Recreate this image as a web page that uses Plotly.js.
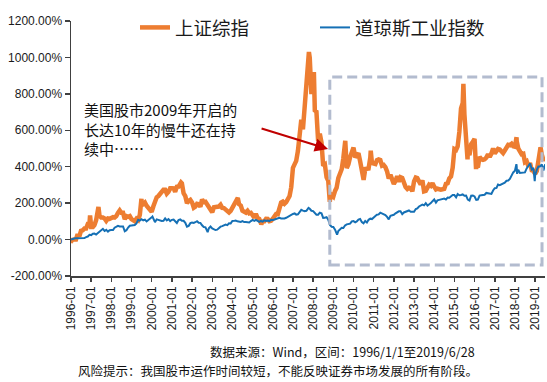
<!DOCTYPE html>
<html>
<head>
<meta charset="utf-8">
<script src="https://cdn.plot.ly/plotly-3.0.1.min.js"></script>
<style>
html,body{margin:0;padding:0;background:#fff;}
#chart{width:547px;height:382px;}
</style>
</head>
<body>
<div id="chart"></div>
<script>
// ---- Data (cumulative return since 1996-01, %) ----
const startDate = "1996-01-02";
const firstYear = 1996;
const lastYear = 2019;
const lastMonth = 6;

const seriesNames = ["上证综指", "道琼斯工业指数"];

// 上证综指 month-end values (1996-01 .. 2019-06)
const sseMonthly = [
  -1,1,1,30,18,48,51,61,61,85,85,69,
  69,79,107,155,131,121,121,116,103,116,114,120,
  123,121,129,147,160,147,147,112,129,125,129,112,
  109,101,114,107,136,212,195,203,186,173,166,152,
  183,216,232,239,250,256,273,273,252,262,282,282,
  281,262,290,291,308,309,254,238,200,212,218,204,
  175,181,196,194,180,220,205,207,192,178,165,150,
  177,179,179,181,191,174,173,162,152,149,158,176,
  193,209,221,194,187,158,156,148,158,144,147,134,
  120,141,118,114,96,99,100,114,113,101,103,114,
  132,140,139,166,203,208,197,206,223,239,287,394,
  414,432,487,609,658,605,725,863,924,999,799,871,
  709,702,541,581,533,405,412,342,323,219,245,236,
  267,284,338,357,386,446,530,392,413,453,489,505,
  451,463,474,430,378,342,387,387,390,450,420,418,
  415,436,440,437,406,410,398,374,335,355,330,306,
  323,348,318,342,338,311,288,278,285,282,265,319,
  340,337,313,302,325,265,268,287,301,295,310,290,
  275,279,275,274,276,278,306,309,336,347,395,497,
  492,511,592,720,751,689,576,492,463,524,536,553,
  405,396,454,442,438,441,450,469,454,472,500,473,
  483,498,495,482,475,489,504,520,518,526,512,510,
  542,501,485,469,471,425,431,403,420,380,377,360,
  377,443,470,468,435,450
];
// 上证综指 intramonth extremes
const sseExtraDates = ["1996-01-19","1996-12-11","1997-05-12","1999-06-29","2001-06-14","2004-04-07","2005-06-06","2007-10-16","2008-01-14","2008-10-28","2009-08-04","2010-07-02","2010-11-08","2015-06-12","2015-08-26","2016-01-27","2018-01-29","2019-04-08"];
const sseExtraVals  = [-5,132,179,224,314,229,84,1030,919,207,542,328,488,855,440,387,562,507];

// 道琼斯工业指数 month-end values (1996-01 .. 2019-06)
const djiMonthly = [
  4.2,6.0,7.9,7.6,9.0,9.2,6.8,8.5,13.6,16.5,26.0,24.6,
  31.6,32.9,27.2,35.4,41.6,48.2,58.8,47.2,53.5,43.8,51.1,52.8,
  52.7,65.1,70.0,75.1,71.9,72.9,71.6,45.6,51.5,66.0,76.1,77.3,
  80.8,79.8,89.0,108.4,104.0,111.9,105.8,109.2,99.7,107.3,110.1,122.1,
  111.3,95.6,111.0,107.3,103.2,101.8,103.2,116.6,105.7,111.9,101.2,108.4,
  110.3,102.7,90.8,107.4,110.8,102.9,103.3,92.2,70.9,75.3,90.3,93.6,
  91.6,95.2,101.0,92.1,91.7,78.5,68.8,67.4,46.6,62.2,71.8,61.1,
  55.6,52.4,54.4,63.8,70.9,73.6,78.4,81.9,79.2,89.3,88.9,101.9,
  102.6,104.4,100.1,97.5,96.8,101.6,95.9,96.5,94.7,93.7,101.4,108.3,
  102.6,108.0,102.9,96.9,102.2,98.5,105.5,102.5,104.2,101.7,108.7,107.0,
  109.9,112.3,114.6,119.6,115.7,115.4,116.1,119.8,125.6,133.4,136.1,140.7,
  143.8,137.0,138.6,152.3,163.2,159.0,155.2,158.0,168.4,169.1,158.3,156.2,
  144.3,136.9,136.9,147.6,144.1,119.2,119.8,123.0,109.6,80.1,70.5,69.5,
  54.5,36.4,47.0,57.8,64.2,63.2,77.2,83.4,87.6,87.6,99.8,101.4,
  94.5,99.4,109.7,112.7,95.8,88.8,102.2,93.5,108.4,114.8,112.6,123.6,
  129.7,136.2,138.0,147.5,142.8,139.8,134.6,124.3,110.8,130.9,132.7,136.0,
  144.0,150.2,155.2,155.2,139.4,148.8,151.3,152.9,159.6,153.0,151.6,153.1,
  167.7,171.5,181.6,186.7,192.0,188.0,199.4,186.1,192.3,200.3,210.7,220.2,
  203.2,215.3,217.9,220.3,222.9,225.0,219.9,230.3,229.2,235.9,244.4,244.3,
  231.6,250.3,243.4,244.6,247.9,240.4,241.7,219.3,214.6,241.2,242.3,236.6,
  218.1,219.0,241.6,243.3,243.6,246.3,256.0,255.4,253.6,250.4,269.4,281.7,
  283.7,302.0,299.1,304.5,305.8,312.4,322.9,324.0,332.8,351.6,368.8,377.5,
  405.1,383.5,365.6,366.7,371.6,368.8,390.9,401.5,411.1,385.1,393.3,350.6,
  382.9,400.6,400.8,413.7,379.3,413.8
];
const djiExtraDates = ["2000-01-14","2002-10-09","2007-10-09","2009-03-09","2018-01-26","2018-02-08","2018-10-03","2018-12-24"];
const djiExtraVals  = [126.4,40.7,173.6,26.5,414.1,360.9,418.2,320.9];

// tick labels / texts
const yTickVals = [-200,0,200,400,600,800,1000,1200];
const yTickText = ["-200.00%","0.00%","200.00%","400.00%","600.00%","800.00%","1000.00%","1200.00%"];
const noteLines = ["美国股市2009年开启的", "长达10年的慢牛还在持", "续中……"];
const sourceText = "数据来源：Wind，区间：1996/1/1至2019/6/28";
const riskText = "风险提示：我国股市运作时间较短，不能反映证券市场发展的所有阶段。";
const xRange = ["1996-01-01", "2019-06-28"];
const boxX = ["2008-10-28", "2019-05-05"];
const boxY = [-140, 892];
const arrowTip = {x: "2008-09-27", y: 497};

// ---- build series ----
function monthEnds() {
  const out = [];
  for (let y = firstYear; y <= lastYear; y++) {
    for (let m = 1; m <= 12; m++) {
      if (y === lastYear && m > lastMonth) break;
      out.push(new Date(Date.UTC(y, m, 0)).toISOString().slice(0, 10));
    }
  }
  return out;
}
function buildSeries(monthly, exDates, exVals) {
  const d = monthEnds();
  const pts = [[startDate, 0]];
  d.forEach((dt, i) => pts.push([dt, monthly[i]]));
  exDates.forEach((dt, i) => pts.push([dt, exVals[i]]));
  pts.sort((a, b) => a[0] < b[0] ? -1 : a[0] > b[0] ? 1 : 0);
  return {x: pts.map(p => p[0]), y: pts.map(p => p[1])};
}
const sse = buildSeries(sseMonthly, sseExtraDates, sseExtraVals);
const dji = buildSeries(djiMonthly, djiExtraDates, djiExtraVals);

const cjk = '"Noto Sans CJK SC", "Microsoft YaHei", sans-serif';
const num = '"Liberation Sans", Arial, sans-serif';

const traces = [
  {x: sse.x, y: sse.y, name: seriesNames[0], type: 'scatter', mode: 'lines',
   line: {color: '#ED7D31', width: 4.5}},
  {x: dji.x, y: dji.y, name: seriesNames[1], type: 'scatter', mode: 'lines',
   line: {color: '#1570B5', width: 2}}
];

const layout = {
  width: 547, height: 382,
  margin: {l: 71, r: 2, t: 21, b: 106},
  paper_bgcolor: '#ffffff', plot_bgcolor: '#ffffff',
  showlegend: true,
  legend: {orientation: 'h', x: 0.135, xanchor: 'left', y: 0.973, yanchor: 'middle',
           font: {family: cjk, size: 18.5, color: '#1a1a1a'},
           entrywidth: 135, entrywidthmode: 'pixels', bgcolor: 'rgba(0,0,0,0)',
           itemclick: false, tracegroupgap: 0},
  xaxis: {type: 'date', range: xRange, tick0: '1996-01-01', dtick: 'M12',
          tickformat: '%Y-%m', tickangle: -90, showgrid: false, zeroline: false,
          showline: true, linecolor: '#404040', linewidth: 1.5,
          ticks: 'outside', ticklen: 4, tickcolor: '#404040', tickwidth: 1.5,
          tickfont: {family: num, size: 12, color: '#1a1a1a'}},
  yaxis: {range: [-200, 1200], tickmode: 'array', tickvals: yTickVals, ticktext: yTickText,
          showgrid: false, zeroline: false, showline: true, linecolor: '#404040', linewidth: 1.5,
          ticks: 'outside', ticklen: 5, tickcolor: '#404040', tickwidth: 1.5,
          tickfont: {family: num, size: 12, color: '#1a1a1a'}},
  shapes: [
    {type: 'rect', xref: 'x', yref: 'y', x0: boxX[0], x1: boxX[1], y0: boxY[0], y1: boxY[1],
     line: {color: '#B3BCCF', width: 3, dash: '10px,5px'}, fillcolor: 'rgba(0,0,0,0)', layer: 'above'}
  ],
  annotations: [
    {xref: 'x', yref: 'y', x: arrowTip.x, y: arrowTip.y, axref: 'pixel', ayref: 'pixel',
     ax: -68, ay: -21, text: '', showarrow: true, arrowhead: 2, arrowsize: 1.2, arrowwidth: 2.2,
     arrowcolor: '#C00000'},
    {xref: 'paper', yref: 'paper', x: (82 - 71) / 474, y: (276 - 97) / 255,
     xanchor: 'left', yanchor: 'top', align: 'left', showarrow: false,
     text: noteLines.join('<br>'), font: {family: cjk, size: 15, color: '#111'}},
    {xref: 'paper', yref: 'paper', x: (208 - 71) / 474, y: (276 - 351) / 255,
     xanchor: 'left', yanchor: 'middle', showarrow: false,
     text: sourceText, font: {family: cjk, size: 12.5, color: '#111'}},
    {xref: 'paper', yref: 'paper', x: (76 - 71) / 474, y: (276 - 370) / 255,
     xanchor: 'left', yanchor: 'middle', showarrow: false,
     text: riskText, font: {family: cjk, size: 12.5, color: '#111'}}
  ]
};

Plotly.newPlot('chart', traces, layout, {displayModeBar: false, staticPlot: true});
</script>
</body>
</html>
